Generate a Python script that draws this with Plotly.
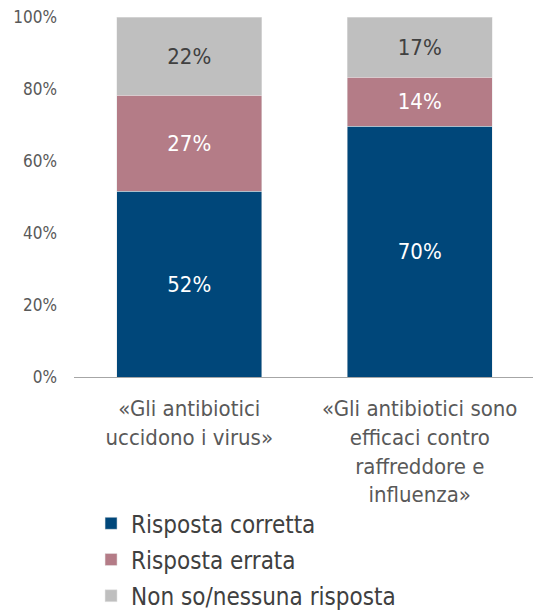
import plotly.graph_objects as go

categories = ["«Gli antibiotici<br>uccidono i virus»",
              "«Gli antibiotici sono<br>efficaci contro<br>raffreddore e<br>influenza»"]
series_names = ["Risposta corretta", "Risposta errata", "Non so/nessuna risposta"]
corretta = [51.6, 69.6]
errata = [26.6, 13.6]
non_so = [21.8, 16.8]
tick_vals = [0, 20, 40, 60, 80, 100]
tick_text = ["0%", "20%", "40%", "60%", "80%", "100%"]

FONT = "DejaVu Sans Condensed, DejaVu Sans, sans-serif"
colors = ["#00477A", "#B47C87", "#BFBFBF"]
text_colors = ["#FFFFFF", "#FFFFFF", "#404040"]

fig = go.Figure()
for i, (name, vals, c, tc) in enumerate(zip(series_names, [corretta, errata, non_so], colors, text_colors)):
    fig.add_trace(go.Bar(
        x=categories, y=vals, name=name, legendgroup=f"g{i}",
        marker=dict(color=c, line=dict(width=0.5, color="#E6E6E6")),
        texttemplate="%{y:.0f}%", textposition="inside", insidetextanchor="middle",
        textfont=dict(color=tc, size=22, family=FONT),
        hoverinfo="skip",
    ))

fig.update_layout(
    barmode="stack", bargap=0.37,
    width=533, height=604,
    margin=dict(l=66, r=6, t=9, b=235, autoexpand=False),
    paper_bgcolor="white", plot_bgcolor="white",
    font=dict(family=FONT, color="#595959"),
    showlegend=True,
    legend=dict(orientation="v", x=0.037, xanchor="left", y=-0.345, yanchor="top",
                font=dict(size=24, color="#404040"), tracegroupgap=2,
                traceorder="grouped", bgcolor="rgba(0,0,0,0)"),
    uniformtext=dict(minsize=8, mode="show"),
)
fig.update_xaxes(showline=True, linecolor="#A6A6A6", linewidth=1, ticks="",
                 tickfont=dict(size=22, color="#595959"), showgrid=False,
                 ticklabelstandoff=12)
fig.update_yaxes(range=[0, 100], tickvals=tick_vals, ticktext=tick_text,
                 showgrid=False, zeroline=False, showline=False,
                 tickfont=dict(size=17, color="#595959"), ticklabelstandoff=16,
                 ticklabeloverflow="allow")

fig.write_html("out.html")
